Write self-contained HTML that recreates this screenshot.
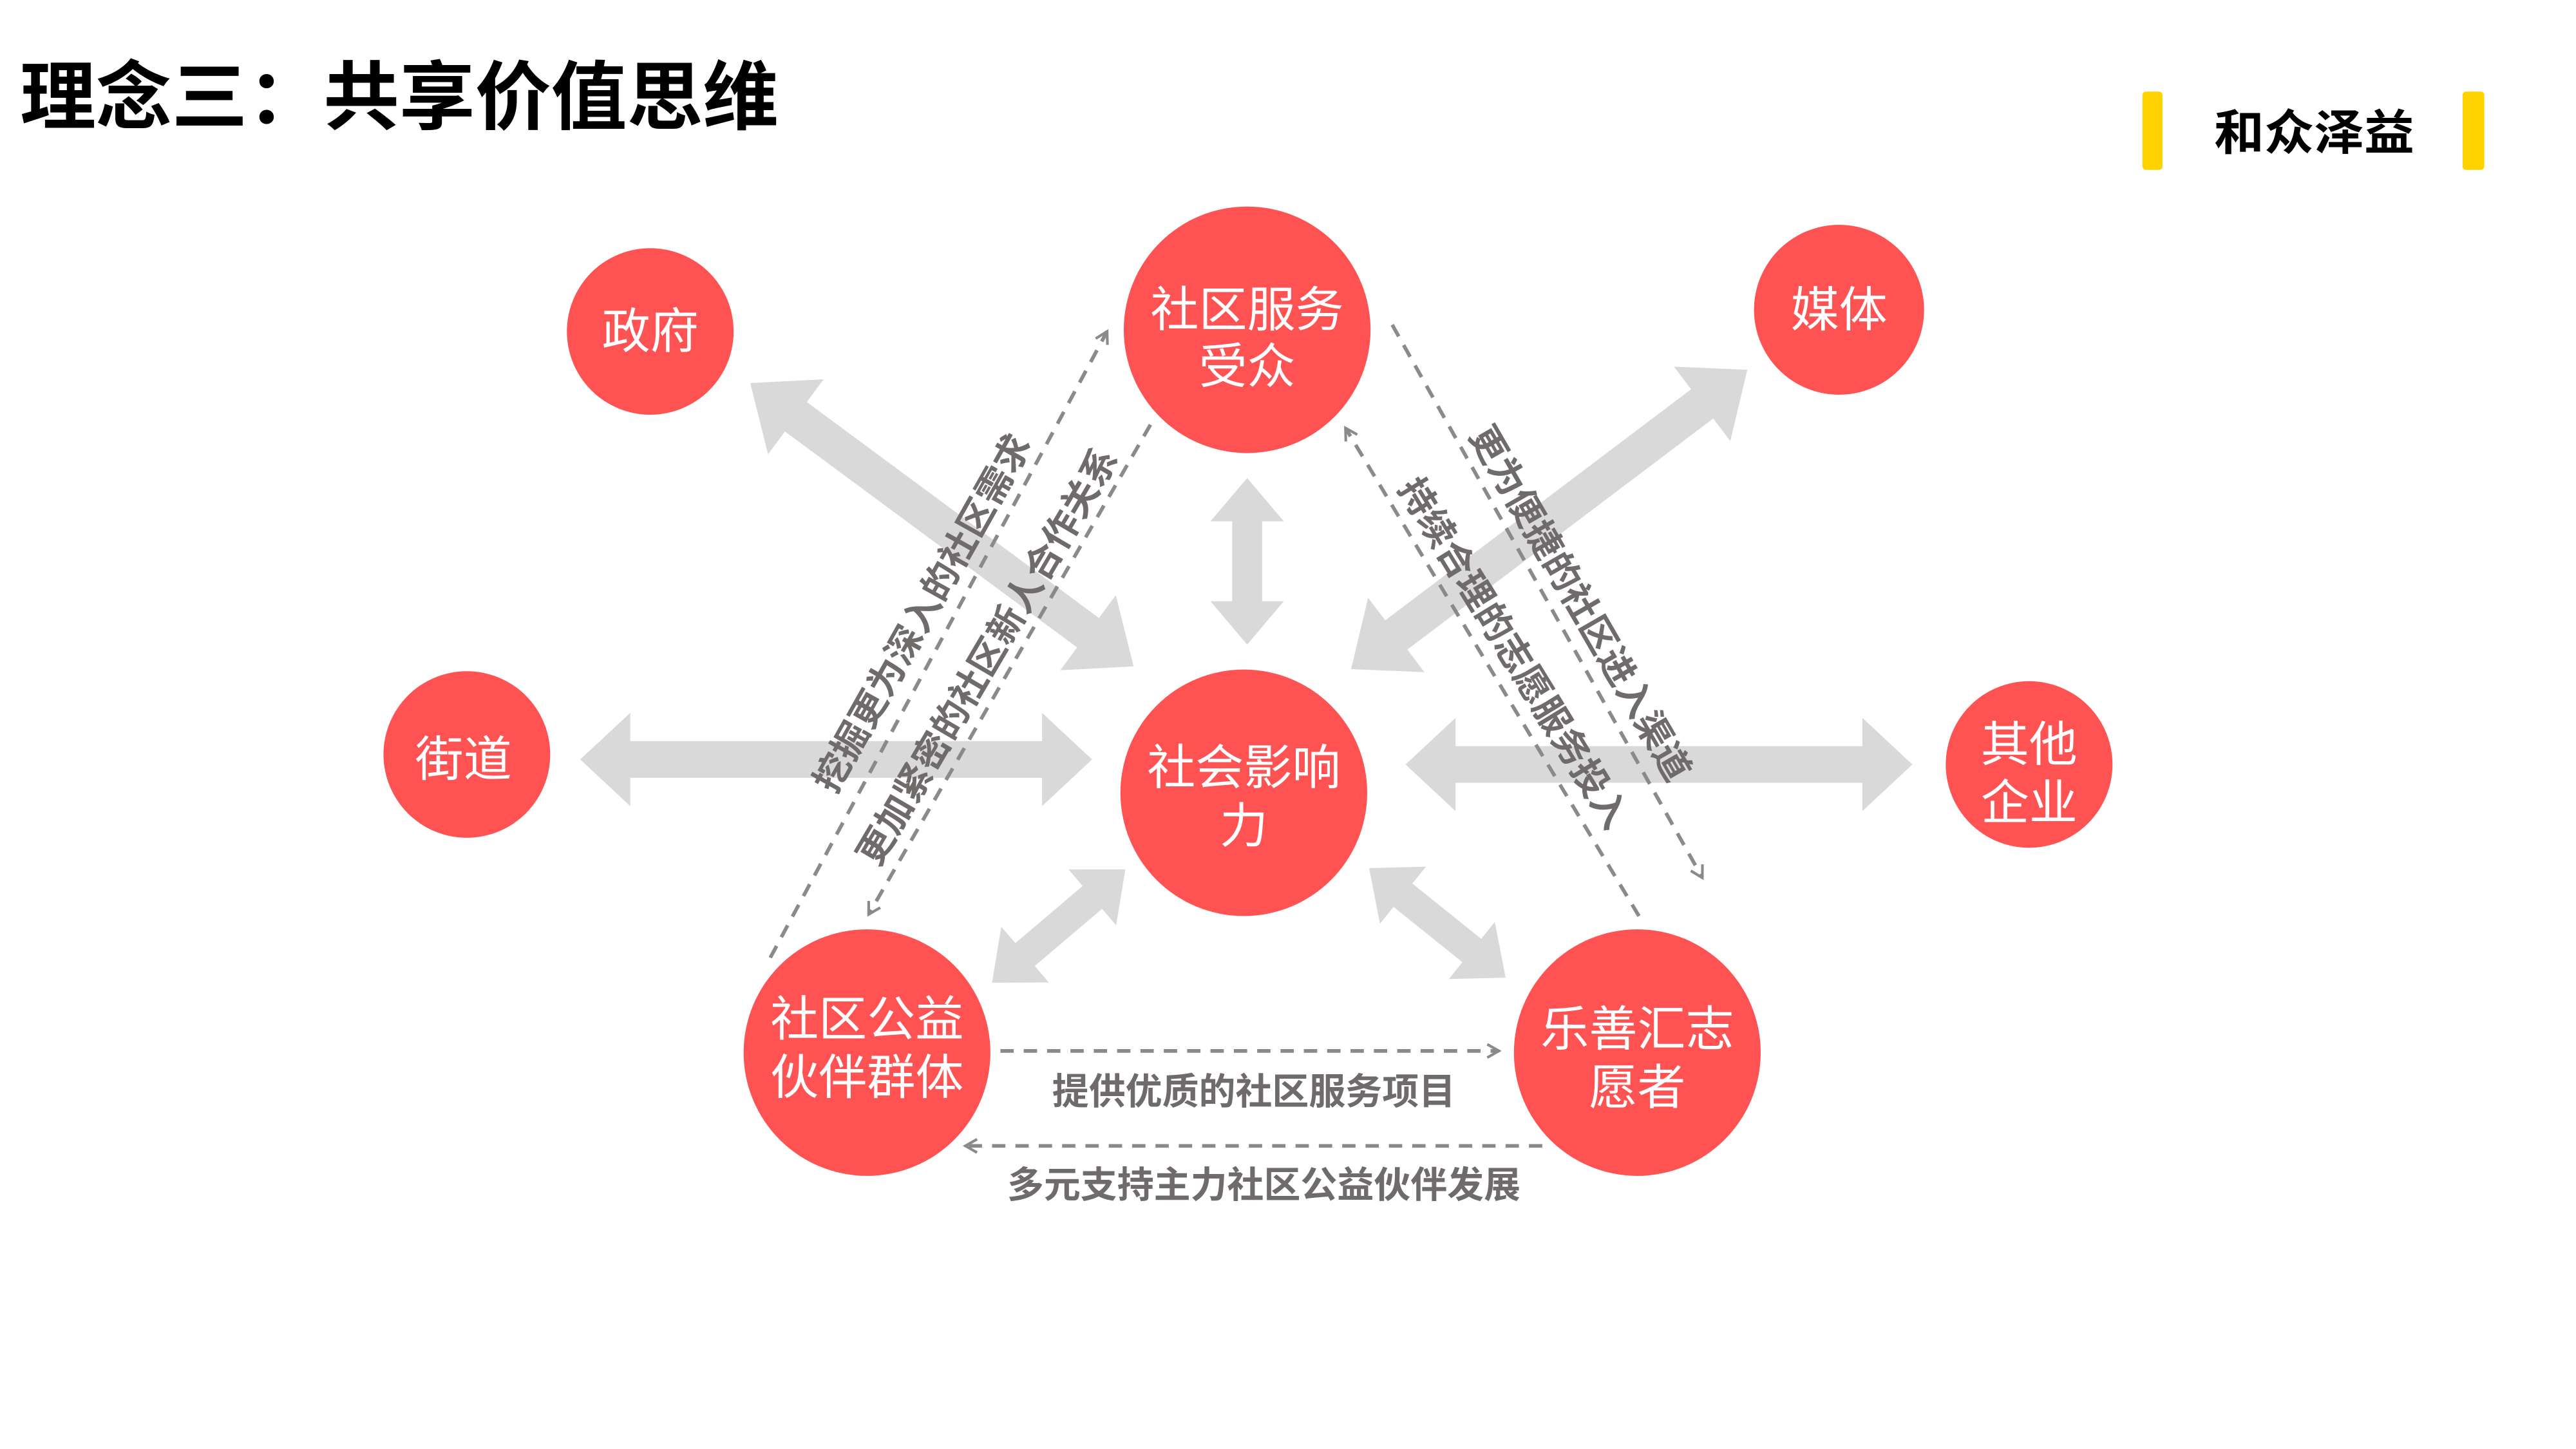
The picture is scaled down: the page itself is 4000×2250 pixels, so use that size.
<!DOCTYPE html>
<html><head><meta charset="utf-8"><style>
html,body{margin:0;padding:0;background:#fff;}
svg{display:block;}
text{font-family:"Liberation Sans","Noto Sans CJK SC",sans-serif;}
</style></head><body>
<svg width="4000" height="2250" viewBox="0 0 1545 870" preserveAspectRatio="none" xmlns="http://www.w3.org/2000/svg">
<defs>
<marker id="m" viewBox="0 0 10 10" refX="8" refY="5" markerWidth="10" markerHeight="10" markerUnits="userSpaceOnUse" orient="auto">
<path d="M1,1 L8,5 L1,9" fill="none" stroke="#8a8a8a" stroke-width="1.6"/>
</marker>
</defs>
<text x="12" y="74" font-size="45" font-weight="bold" fill="#000" textLength="455" lengthAdjust="spacingAndGlyphs">理念三：共享价值思维</text>
<rect x="1285" y="55" width="12" height="47" rx="2" fill="#FFD200"/>
<rect x="1477" y="55" width="13" height="47" rx="2" fill="#FFD200"/>
<text x="1388" y="90" font-size="29" font-weight="bold" fill="#000" text-anchor="middle" textLength="120" lengthAdjust="spacingAndGlyphs">和众泽益</text>

<g fill="#d9d9d9">
<g transform="translate(450,230) rotate(36.5)"><polygon points="0,0 34,-28 34,-11 252,-11 252,-28 286,0 252,28 252,11 34,11 34,28"/></g>
<g transform="translate(1048,222) rotate(142.9)"><polygon points="0,0 34,-28 34,-11 264,-11 264,-28 298,0 264,28 264,11 34,11 34,28"/></g>
<g transform="translate(748,287) rotate(90)"><polygon points="0,0 26,-22 26,-9 74,-9 74,-22 100,0 74,22 74,9 26,9 26,22"/></g>
<g transform="translate(348,456)"><polygon points="0,0 30,-28 30,-11 277,-11 277,-28 307,0 277,28 277,11 30,11 30,28"/></g>
<g transform="translate(843,459)"><polygon points="0,0 30,-28 30,-11 274,-11 274,-28 304,0 274,28 274,11 30,11 30,28"/></g>
<g transform="translate(595,590) rotate(-40.4)"><polygon points="0,0 26,-22 26,-9 79,-9 79,-22 105,0 79,22 79,9 26,9 26,22"/></g>
<g transform="translate(903,587) rotate(218.8)"><polygon points="0,0 26,-22 26,-9 79,-9 79,-22 105,0 79,22 79,9 26,9 26,22"/></g>
</g>

<g stroke="#8a8a8a" stroke-width="2.2" stroke-dasharray="8,6" fill="none" marker-end="url(#m)">
<line x1="462" y1="575" x2="664" y2="199"/>
<line x1="690" y1="255" x2="521" y2="549"/>
<line x1="835" y1="195" x2="1021" y2="527"/>
<line x1="983" y1="550" x2="807" y2="257"/>
<line x1="600" y1="631" x2="899" y2="631"/>
<line x1="925" y1="688" x2="579" y2="688"/>
</g>

<g fill="#FF5252">
<circle cx="748" cy="198" r="74"/>
<circle cx="390" cy="199" r="50"/>
<circle cx="1103" cy="186" r="51"/>
<circle cx="280" cy="453" r="50"/>
<circle cx="746" cy="476" r="74"/>
<circle cx="1217" cy="459" r="50"/>
<circle cx="520" cy="632" r="74"/>
<circle cx="982" cy="632" r="74"/>
</g>
<g fill="#fff" font-size="29" text-anchor="middle">
<text x="748" y="196">社区服务</text><text x="748" y="230">受众</text>
<text x="390" y="209">政府</text>
<text x="1103" y="196">媒体</text>
<text x="278" y="466">街道</text>
<text x="746" y="471">社会影响</text><text x="746" y="506">力</text>
<text x="1217" y="457">其他</text><text x="1217" y="492">企业</text>
<text x="520" y="622">社区公益</text><text x="520" y="657">伙伴群体</text>
<text x="982" y="628">乐善汇志</text><text x="982" y="663">愿者</text>
</g>

<g fill="#6f6b6b" font-size="22" font-weight="bold" text-anchor="middle">
<text transform="translate(553,368) rotate(-60.7)" y="8">挖掘更为深入的社区需求</text>
<text transform="translate(592,394) rotate(-59.6)" y="8">更加紧密的社区新人合作关系</text>
<text transform="translate(948,362) rotate(60)" y="8">更为便捷的社区进入渠道</text>
<text transform="translate(908,392) rotate(58.5)" y="8">持续合理的志愿服务投入</text>
<text x="752" y="663" font-size="22">提供优质的社区服务项目</text>
<text x="758" y="719" font-size="22">多元支持主力社区公益伙伴发展</text>
</g>
</svg>
</body></html>
